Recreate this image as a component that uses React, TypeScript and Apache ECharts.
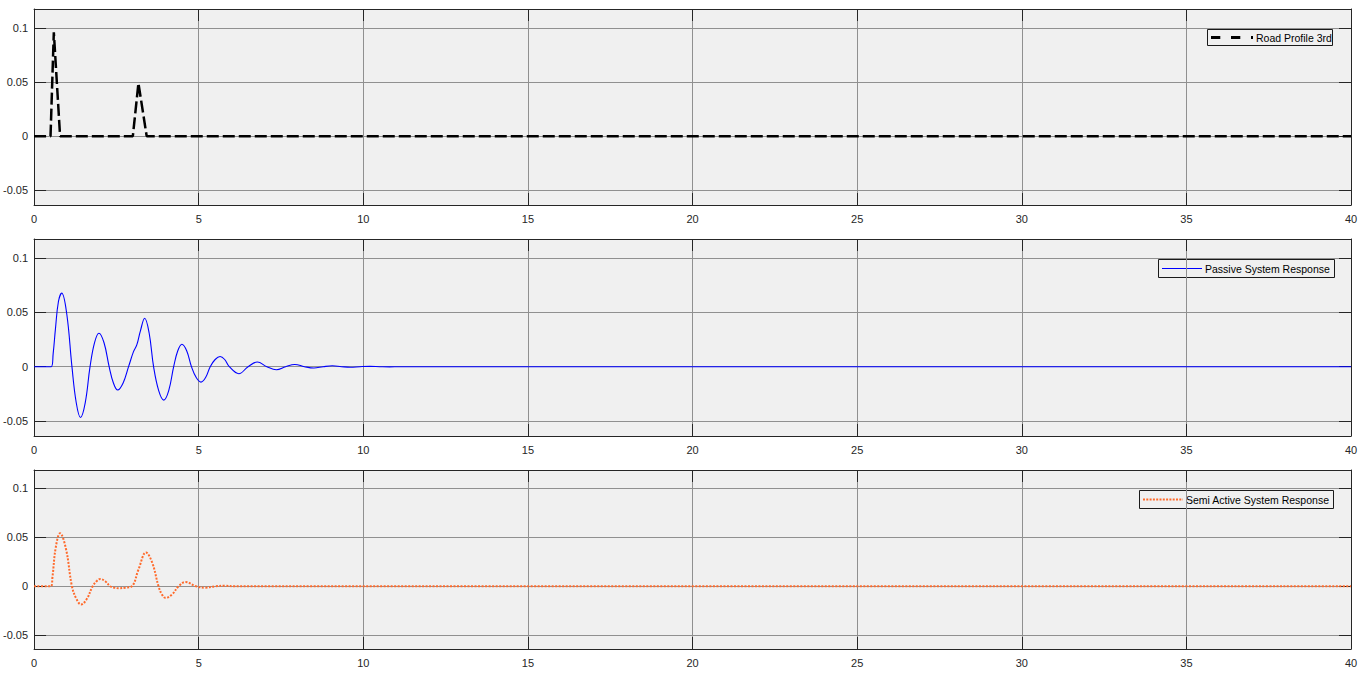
import React, { useEffect, useRef } from "react";
import * as echarts from "echarts";

// ---- data ----
const seriesNames = ["Road Profile 3rd", "Passive System Response", "Semi Active System Response"];

const roadT = [0, 0.5, 0.6, 0.79, 3.0, 3.17, 3.42, 40];
const roadV = [0, 0, 0.096, 0, 0, 0.049, 0, 0];

const passiveT = [
  0, 0.52, 0.58, 0.65, 0.74, 0.84, 0.995, 1.15, 1.28, 1.41, 1.555, 1.7, 1.835, 1.97, 2.125, 2.28, 2.41, 2.54,
  2.705, 2.87, 3.02, 3.12, 3.23, 3.36, 3.495, 3.63, 3.785, 3.94, 4.09, 4.24, 4.365, 4.49, 4.635, 4.78, 4.925,
  5.07, 5.21, 5.35, 5.5, 5.65, 5.79, 5.93, 6.22, 6.5, 6.78, 7.07, 7.36, 7.64, 7.92, 8.21, 8.5, 8.78, 9.06,
  9.34, 9.61, 9.9, 10.2, 10.5, 10.8, 11.1, 40,
];
const passiveV = [
  0, 0, 0.012, 0.035, 0.06, 0.0677, 0.048, 0, -0.033, -0.0468, -0.033, 0, 0.022, 0.0308, 0.022, 0, -0.015,
  -0.0215, -0.015, 0, 0.0138, 0.02, 0.033, 0.0446, 0.031, 0, -0.022, -0.0308, -0.022, 0, 0.0146, 0.0206, 0.0146,
  0, -0.01, -0.0142, -0.01, 0, 0.0066, 0.0094, 0.0066, 0, -0.0065, 0, 0.0043, 0, -0.0028, 0, 0.002, 0, -0.0012,
  0, 0.0008, 0, -0.0005, 0, 0.0003, 0, -0.0002, 0, 0,
];

const semiT = [
  0, 0.51, 0.56, 0.66, 0.79, 0.97, 1.15, 1.29, 1.43, 1.6, 1.78, 1.9, 2.01, 2.16, 2.31, 2.44, 2.57, 2.77, 2.97,
  3.17, 3.4, 3.59, 3.78, 3.885, 3.99, 4.19, 4.39, 4.6, 4.92, 5.2, 5.5, 5.8, 6.1, 40,
];
const semiV = [
  0, 0, 0.01, 0.04, 0.0541, 0.038, 0, -0.013, -0.0186, -0.013, 0, 0.0052, 0.0074, 0.0052, 0, -0.0014, -0.002,
  -0.0014, 0, 0.017, 0.0345, 0.024, 0, -0.0083, -0.0118, -0.0083, 0, 0.0044, 0, -0.0014, 0, 0.0005, 0, 0,
];

const xTicksMin = 0;
const xTicksMax = 40;
const xTickStep = 5;
const yTickValues = [-0.05, 0, 0.05, 0.1];
const yMins = [-0.0637, -0.0638, -0.064];
const yMaxs = [0.1176, 0.1175, 0.1187];

// ---- layout / style ----
const gridTops = [9, 239, 470];
const gridHeights = [196, 197, 179];
const FONT = "'Liberation Sans', Arial, Helvetica, sans-serif";
const AXIS_COLOR = "#262626";
const GRID_COLOR = "#909090";
const COLORS = ["#000000", "#0000ff", "#ff6a2b"];
// legend boxes: [x, y, width, height, iconWidth]
const legendBoxes = [
  [1207, 29, 125, 16, 42],
  [1158, 259, 176, 18, 40],
  [1139, 490, 194, 18, 40],
];
const legendLineWidths = [3, 1, 2];
const legendDashes: (number[] | null)[] = [[9.3, 10.7], null, [2, 1.3]];

const zip = (t: number[], v: number[]) => t.map((x, i) => [x, v[i]]);

export default function App() {
  const ref = useRef<HTMLDivElement>(null);
  useEffect(() => {
    if (!ref.current) return;
    const chart = echarts.init(ref.current, null, { renderer: "svg" });

    const grids = gridTops.map((top, i) => ({
      left: 32,
      right: 15,
      top,
      height: gridHeights[i],
      show: true,
      backgroundColor: "#f0f0f0",
      borderWidth: 0,
      containLabel: false,
    }));

    const xAxes: any[] = [];
    const yAxes: any[] = [];
    gridTops.forEach((_, i) => {
      const tick = { show: true, inside: true, length: 12, lineStyle: { color: AXIS_COLOR, width: 1 } };
      const line = { show: true, onZero: false, lineStyle: { color: AXIS_COLOR, width: 1 } };
      xAxes.push({
        type: "value",
        gridIndex: i,
        position: "bottom",
        min: xTicksMin,
        max: xTicksMax,
        interval: xTickStep,
        axisLine: line,
        axisTick: tick,
        axisLabel: { color: AXIS_COLOR, fontSize: 11, fontFamily: FONT, margin: 8 },
        splitLine: { show: true, lineStyle: { color: GRID_COLOR, width: 1 } },
      });
      xAxes.push({
        type: "value",
        gridIndex: i,
        position: "top",
        min: xTicksMin,
        max: xTicksMax,
        interval: xTickStep,
        axisLine: line,
        axisTick: tick,
        axisLabel: { show: false },
        splitLine: { show: false },
      });
      yAxes.push({
        type: "value",
        gridIndex: i,
        position: "left",
        min: yMins[i],
        max: yMaxs[i],
        axisLine: line,
        axisTick: { ...tick, customValues: yTickValues },
        axisLabel: {
          color: AXIS_COLOR,
          fontSize: 11,
          fontFamily: FONT,
          margin: 6,
          customValues: yTickValues,
          formatter: (v: number) => String(Math.round(v * 1000) / 1000),
        },
        splitLine: { show: true, lineStyle: { color: GRID_COLOR, width: 1 } },
      });
      yAxes.push({
        type: "value",
        gridIndex: i,
        position: "right",
        min: yMins[i],
        max: yMaxs[i],
        axisLine: line,
        axisTick: { ...tick, customValues: yTickValues },
        axisLabel: { show: false, customValues: yTickValues },
        splitLine: { show: false },
      });
    });

    const series: any[] = [
      {
        name: seriesNames[0],
        type: "line",
        xAxisIndex: 0,
        yAxisIndex: 0,
        data: zip(roadT, roadV),
        showSymbol: false,
        symbol: "none",
        lineStyle: { color: COLORS[0], width: 2.5, type: [12, 4] },
        itemStyle: { color: COLORS[0] },
      },
      {
        name: seriesNames[1],
        type: "line",
        xAxisIndex: 2,
        yAxisIndex: 2,
        data: zip(passiveT, passiveV),
        showSymbol: false,
        symbol: "none",
        smooth: 0.4,
        lineStyle: { color: COLORS[1], width: 1.1 },
        itemStyle: { color: COLORS[1] },
      },
      {
        name: seriesNames[2],
        type: "line",
        xAxisIndex: 4,
        yAxisIndex: 4,
        data: zip(semiT, semiV),
        showSymbol: false,
        symbol: "none",
        smooth: 0.4,
        lineStyle: { color: COLORS[2], width: 2, type: [2, 1.5] },
        itemStyle: { color: COLORS[2] },
      },
    ];

    const graphic: any[] = [];
    legendBoxes.forEach(([x, y, w, h, iw], i) => {
      const cy = y + h / 2 + 0.5;
      graphic.push({
        type: "group",
        silent: true,
        z: 100,
        children: [
          {
            type: "rect",
            shape: { x: x + 0.5, y: y + 0.5, width: w, height: h },
            style: { fill: "#f0f0f0", stroke: "#1a1a1a", lineWidth: 1 },
          },
          {
            type: "line",
            shape: { x1: x + 4, y1: cy, x2: x + 4 + iw, y2: cy },
            style: {
              stroke: COLORS[i],
              lineWidth: legendLineWidths[i],
              lineDash: legendDashes[i] || undefined,
            },
          },
          {
            type: "text",
            x: x + iw + 7,
            y: cy,
            style: {
              text: seriesNames[i],
              fill: "#000000",
              font: `10.5px ${FONT}`,
              verticalAlign: "middle",
              align: "left",
            },
          },
        ],
      });
    });

    chart.setOption({
      animation: false,
      backgroundColor: "#ffffff",
      grid: grids,
      xAxis: xAxes,
      yAxis: yAxes,
      series,
      graphic,
    });
    return () => chart.dispose();
  }, []);

  return (
    <div
      ref={ref}
      style={{ position: "absolute", left: 0, top: 0, width: 1366, height: 691 }}
    />
  );
}
